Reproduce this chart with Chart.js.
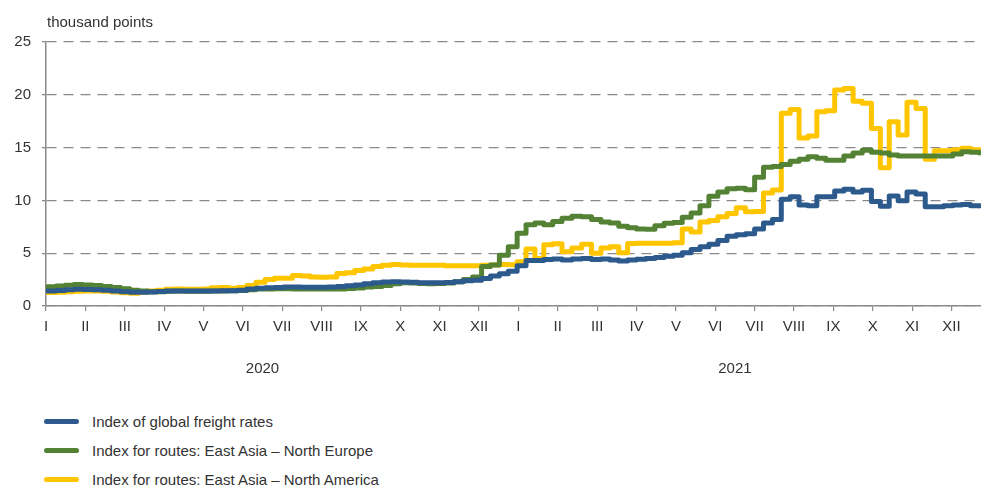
<!DOCTYPE html>
<html>
<head>
<meta charset="utf-8">
<title>Freight rate indices</title>
<script src="https://cdn.jsdelivr.net/npm/chart.js@4.4.0/dist/chart.umd.min.js"></script>
<style>
  html, body { margin: 0; padding: 0; background: #fff; }
  body { width: 981px; height: 486px; overflow: hidden; font-family: "Liberation Sans", Arial, sans-serif; color: #333; position: relative; }
  #chart { display: block; }
  #legend { list-style: none; margin: 0; padding: 0; position: absolute; left: 44px; top: 407px; }
  #legend li { display: flex; align-items: center; height: 29px; font-size: 15px; }
  #legend .swatch { width: 35px; height: 5px; border-radius: 3px; margin-right: 13px; }
</style>
</head>
<body>
<canvas id="chart" width="981" height="390"></canvas>
<ul id="legend"></ul>
<script>
// weekly readings (Thursdays), thousand points
const dates = [
  "2020-01-02", "2020-01-09", "2020-01-16", "2020-01-23", "2020-01-30",
  "2020-02-06", "2020-02-13", "2020-02-20", "2020-02-27",
  "2020-03-05", "2020-03-12", "2020-03-19", "2020-03-26",
  "2020-04-02", "2020-04-09", "2020-04-16", "2020-04-23", "2020-04-30",
  "2020-05-07", "2020-05-14", "2020-05-21", "2020-05-28",
  "2020-06-04", "2020-06-11", "2020-06-18", "2020-06-25",
  "2020-07-02", "2020-07-09", "2020-07-16", "2020-07-23", "2020-07-30",
  "2020-08-06", "2020-08-13", "2020-08-20", "2020-08-27",
  "2020-09-03", "2020-09-10", "2020-09-17", "2020-09-24",
  "2020-10-01", "2020-10-08", "2020-10-15", "2020-10-22", "2020-10-29",
  "2020-11-05", "2020-11-12", "2020-11-19", "2020-11-26",
  "2020-12-03", "2020-12-10", "2020-12-17", "2020-12-24", "2020-12-31",
  "2021-01-07", "2021-01-14", "2021-01-21", "2021-01-28",
  "2021-02-04", "2021-02-11", "2021-02-18", "2021-02-25",
  "2021-03-04", "2021-03-11", "2021-03-18", "2021-03-25",
  "2021-04-01", "2021-04-08", "2021-04-15", "2021-04-22", "2021-04-29",
  "2021-05-06", "2021-05-13", "2021-05-20", "2021-05-27",
  "2021-06-03", "2021-06-10", "2021-06-17", "2021-06-24",
  "2021-07-01", "2021-07-08", "2021-07-15", "2021-07-22", "2021-07-29",
  "2021-08-05", "2021-08-12", "2021-08-19", "2021-08-26",
  "2021-09-02", "2021-09-09", "2021-09-16", "2021-09-23", "2021-09-30",
  "2021-10-07", "2021-10-14", "2021-10-21", "2021-10-28",
  "2021-11-04", "2021-11-11", "2021-11-18", "2021-11-25",
  "2021-12-02", "2021-12-09", "2021-12-16", "2021-12-23"
]

const globalIndex = [
  1.42, 1.47, 1.55, 1.58, 1.56, 1.54, 1.5, 1.42, 1.35, 1.3, 1.3, 1.33, 1.37,
  1.41, 1.42, 1.42, 1.42, 1.42, 1.43, 1.44, 1.45, 1.5, 1.6, 1.68, 1.72, 1.75,
  1.8, 1.8, 1.78, 1.77, 1.77, 1.8, 1.85, 1.92, 2.0, 2.1, 2.2, 2.28, 2.3,
  2.27, 2.24, 2.2, 2.2, 2.2, 2.22, 2.3, 2.4, 2.45, 2.6, 2.85, 3.05, 3.3, 3.8,
  4.3, 4.3, 4.4, 4.45, 4.35, 4.45, 4.5, 4.4, 4.45, 4.35, 4.25, 4.35, 4.42,
  4.5, 4.6, 4.7, 4.8, 5.05, 5.35, 5.6, 5.85, 6.2, 6.6, 6.75, 6.85, 7.3,
  7.85, 8.2, 10.1, 10.35, 9.56, 9.5, 10.35, 10.35, 10.9, 11.05, 10.8, 10.95,
  9.9, 9.45, 10.42, 9.97, 10.8, 10.6, 9.4, 9.4, 9.5, 9.56, 9.6, 9.5, 9.47
]

const asiaEurope = [
  1.83, 1.9, 1.97, 2.03, 1.99, 1.93, 1.85, 1.75, 1.63, 1.5, 1.42, 1.35, 1.36,
  1.4, 1.41, 1.4, 1.4, 1.4, 1.42, 1.43, 1.44, 1.47, 1.55, 1.6, 1.62, 1.63,
  1.64, 1.62, 1.6, 1.6, 1.62, 1.62, 1.6, 1.65, 1.7, 1.8, 1.85, 1.95, 2.1,
  2.2, 2.18, 2.12, 2.1, 2.12, 2.18, 2.3, 2.5, 2.75, 3.75, 3.88, 4.8, 5.6, 6.9,
  7.7, 7.85, 7.7, 8.0, 8.3, 8.5, 8.45, 8.2, 7.95, 7.85, 7.55, 7.4, 7.3,
  7.26, 7.6, 7.83, 7.9, 8.4, 8.8, 9.5, 10.4, 10.8, 11.1, 11.14, 11.0, 12.2,
  13.15, 13.2, 13.4, 13.7, 13.9, 14.14, 14.0, 13.8, 13.8, 14.2, 14.5, 14.75,
  14.55, 14.5, 14.3, 14.2, 14.2, 14.2, 14.2, 14.2, 14.2, 14.4, 14.6, 14.55, 14.5
]

const asiaAmerica = [
  1.28, 1.3, 1.36, 1.4, 1.42, 1.42, 1.4, 1.33, 1.25, 1.2, 1.3, 1.42, 1.5,
  1.58, 1.6, 1.58, 1.58, 1.6, 1.72, 1.75, 1.68, 1.75, 1.95, 2.25, 2.5, 2.62,
  2.62, 2.9, 2.85, 2.75, 2.72, 2.75, 3.07, 3.15, 3.35, 3.5, 3.75, 3.85, 3.94,
  3.88, 3.85, 3.85, 3.85, 3.85, 3.82, 3.82, 3.82, 3.82, 3.85, 3.88, 3.92, 3.9, 4.2,
  5.4, 4.5, 5.8, 5.9, 5.14, 5.5, 5.84, 5.0, 5.5, 5.6, 5.05, 5.93, 5.95,
  5.95, 5.95, 5.95, 6.0, 7.3, 7.0, 7.95, 8.1, 8.46, 8.77, 9.3, 8.93, 8.95,
  10.7, 10.98, 18.25, 18.6, 15.9, 16.1, 18.4, 18.5, 20.45, 20.6, 19.4, 19.2,
  16.8, 13.1, 17.45, 16.2, 19.3, 18.7, 13.9, 14.7, 14.7, 14.8, 14.93, 14.8, 14.7
]

const monthLabels = ["I", "II", "III", "IV", "V", "VI", "VII", "VIII", "IX", "X", "XI", "XII"]
const years = ["2020", "2021"]
const yTicks = [0, 5, 10, 15, 20, 25]

const seriesNames = [
  "Index of global freight rates",
  "Index for routes: East Asia \u2013 North Europe",
  "Index for routes: East Asia \u2013 North America"
]

const textColor = "#333"
const axisColor = "#8a8a8a"

// every month gets the same width on the axis, so place a date inside its month
function monthPos(iso) {
  const [y, m, d] = iso.split("-").map(Number)
  const daysInMonth = new Date(y, m, 0).getDate()
  return (y - 2020) * 12 + (m - 1) + (d - 1) / daysInMonth
}

function buildDataset(label, values, color) {
  return {
    label,
    data: values.map((v, i) => ({ x: monthPos(dates[i]), y: v })),
    borderColor: color,
    backgroundColor: color,
    borderWidth: 5,
    pointRadius: 0,
    stepped: true,
    borderCapStyle: "round",
    borderJoinStyle: "round"
  }
}

const unitLabel = {
  id: "unitLabel",
  afterDraw(chart) {
    const { ctx, chartArea } = chart
    ctx.save()
    ctx.font = "15px 'Liberation Sans', Arial, sans-serif"
    ctx.fillStyle = textColor
    ctx.textBaseline = "middle"
    ctx.fillText("thousand points", chartArea.left + 1, chartArea.top - 19)
    ctx.restore()
  }
}

const tickFont = { family: "'Liberation Sans', Arial, sans-serif", size: 15 }
const monthCount = monthLabels.length * years.length

const chart = new Chart(document.getElementById("chart"), {
  type: "line",
  data: {
    datasets: [
      buildDataset(seriesNames[0], globalIndex, "#2d5a8c"),
      buildDataset(seriesNames[1], asiaEurope, "#548235"),
      buildDataset(seriesNames[2], asiaAmerica, "#ffc600")
    ]
  },
  options: {
    responsive: false,
    animation: false,
    devicePixelRatio: 1,
    layout: { padding: { top: 42, right: 0, left: 0, bottom: 0 } },
    plugins: {
      legend: { display: false },
      tooltip: { enabled: false }
    },
    scales: {
      x: {
        type: "linear",
        position: "bottom",
        min: 0,
        max: 23.75,
        afterBuildTicks: (scale) => {
          scale.ticks = Array.from({ length: monthCount }, (_, i) => ({ value: i }))
        },
        afterFit: (scale) => { scale.height = 40 },
        ticks: {
          autoSkip: false,
          maxRotation: 0,
          padding: 7,
          color: textColor,
          font: tickFont,
          callback: (value) => monthLabels[Math.round(value) % 12]
        },
        grid: { drawOnChartArea: false, drawTicks: true, tickLength: 5, color: axisColor, lineWidth: 1.2 },
        border: { display: true, color: axisColor, width: 1.5 }
      },
      year: {
        type: "linear",
        position: "bottom",
        min: 0,
        max: 23.75,
        afterBuildTicks: (scale) => {
          scale.ticks = years.map((_, i) => ({ value: i * 12 + 5.5 }))
        },
        afterFit: (scale) => { scale.height = 44 },
        ticks: {
          autoSkip: false,
          maxRotation: 0,
          padding: 14,
          color: textColor,
          font: tickFont,
          callback: (value) => years[Math.floor(value / 12)]
        },
        grid: { display: false, drawTicks: false },
        border: { display: false }
      },
      y: {
        min: 0,
        max: 25,
        afterBuildTicks: (scale) => {
          scale.ticks = yTicks.map((v) => ({ value: v }))
        },
        afterFit: (scale) => { scale.width = 46 },
        ticks: { padding: 11, color: textColor, font: tickFont },
        grid: {
          color: axisColor,
          lineWidth: 1.3,
          tickLength: 4,
          tickColor: axisColor
        },
        border: { display: true, color: axisColor, width: 1.5, dash: [10, 7] }
      }
    }
  },
  plugins: [unitLabel]
})

const legend = document.getElementById("legend")
chart.data.datasets.forEach((ds) => {
  const li = document.createElement("li")
  const swatch = document.createElement("span")
  swatch.className = "swatch"
  swatch.style.background = ds.borderColor
  li.appendChild(swatch)
  li.appendChild(document.createTextNode(ds.label))
  legend.appendChild(li)
})
</script>
</body>
</html>
